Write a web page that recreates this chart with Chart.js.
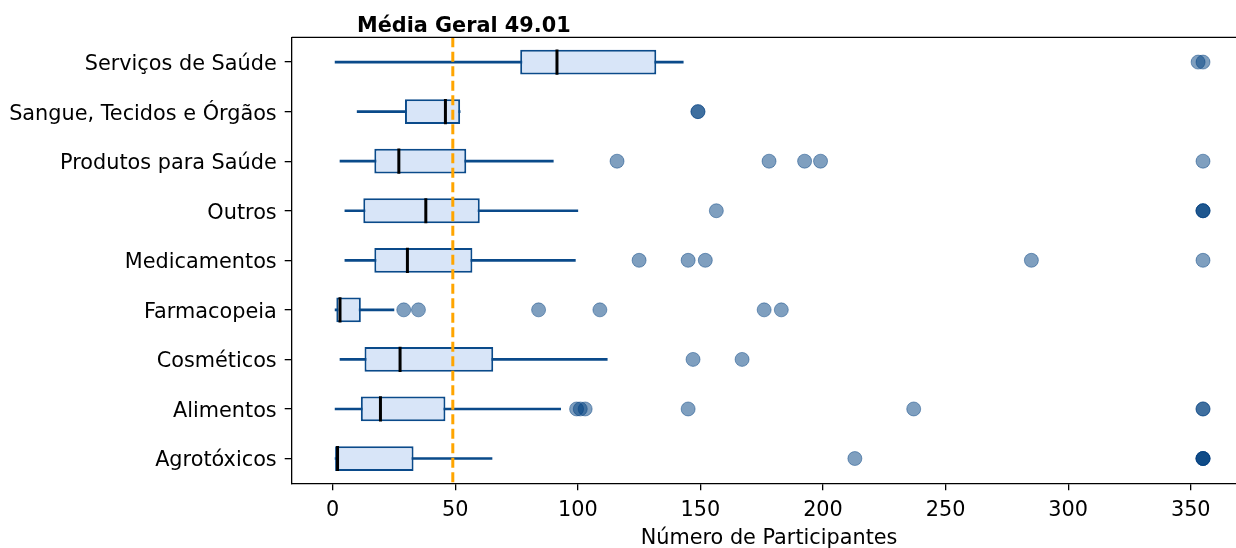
<!DOCTYPE html>
<html>
<head>
<meta charset="utf-8">
<script src="https://cdn.jsdelivr.net/npm/chart.js@4.4.1/dist/chart.umd.min.js"></script>
<style>
  html, body { margin: 0; padding: 0; background: #fff; }
  #wrap { width: 1236px; height: 548px; overflow: hidden; position: relative; }
  #chart { position: absolute; left: 0; top: 0; width: 1262px; height: 548px; }
</style>
</head>
<body>
<div id="wrap"><canvas id="chart" width="1262" height="548"></canvas></div>
<script>
// categories, top to bottom
const categories = ['Serviços de Saúde', 'Sangue, Tecidos e Órgãos', 'Produtos para Saúde', 'Outros',
  'Medicamentos', 'Farmacopeia', 'Cosméticos', 'Alimentos', 'Agrotóxicos'];

// box plot stats
const whiskerLow = [1, 10, 3, 5, 5, 1, 3, 1, 1];
const q1 = [76.5, 29.5, 17, 12.5, 17, 1.5, 13, 11.5, 1];
const median = [91.5, 46, 27, 38, 30.5, 3, 27.5, 19.5, 2];
const q3 = [132, 52, 54.5, 60, 57, 11.5, 65.5, 46, 33];
const whiskerHigh = [143, 52, 90, 100, 99, 25, 112, 93, 65];

// outliers per category (repeats overlap and look darker)
const outliers = [
  [353, 355],
  [149, 149],
  [116, 178, 192.5, 199, 355],
  [156.5, 355, 355, 355],
  [125, 145, 152, 285, 355],
  [29, 35, 84, 109, 176, 183],
  [147, 167],
  [99.5, 101, 103, 145, 237, 355, 355],
  [213, 355, 355, 355, 355]
];

const meanValue = 49.01;
const xTicks = [0, 50, 100, 150, 200, 250, 300, 350];
const xMin = -16.7;
const xMax = 372.7;

const edgeColor = '#0a4a8a';
const boxFill = '#d8e5f8';

Chart.defaults.font.family = 'DejaVu Sans';
Chart.defaults.font.size = 20.8;
Chart.defaults.color = '#000';

const outlierPoints = [];
outliers.forEach((list, i) => {
  list.forEach(v => outlierPoints.push({ x: v, y: categories[i] }));
});

// mean line, title and top spine
const extras = {
  id: 'extras',
  afterDatasetsDraw(chart) {
    const ctx = chart.ctx;
    const area = chart.chartArea;
    const mx = chart.scales.x.getPixelForValue(meanValue);
    ctx.save();
    ctx.strokeStyle = '#FFA500';
    ctx.lineWidth = 3;
    ctx.setLineDash([10, 4.5]);
    ctx.beginPath();
    ctx.moveTo(mx, area.top);
    ctx.lineTo(mx, area.bottom);
    ctx.stroke();
    ctx.restore();
  },
  afterDraw(chart) {
    const ctx = chart.ctx;
    const area = chart.chartArea;
    const xs = chart.scales.x;
    ctx.save();
    ctx.strokeStyle = '#000';
    ctx.lineWidth = 1.3;
    ctx.beginPath();
    ctx.moveTo(area.left, area.top);
    ctx.lineTo(area.right, area.top);
    ctx.lineTo(area.right, area.bottom);
    ctx.stroke();
    ctx.fillStyle = '#000';
    ctx.font = 'bold 20.8px "DejaVu Sans"';
    ctx.textAlign = 'center';
    ctx.textBaseline = 'alphabetic';
    ctx.fillText('Média Geral ' + meanValue.toFixed(2), xs.getPixelForValue(meanValue) + 11, area.top - 5);
    ctx.restore();
  }
};

new Chart(document.getElementById('chart'), {
  type: 'bar',
  data: {
    labels: categories,
    datasets: [
      {
        type: 'scatter',
        label: 'outliers',
        data: outlierPoints,
        pointRadius: 7,
        pointBackgroundColor: 'rgba(0, 64, 128, 0.5)',
        pointBorderColor: 'rgba(0, 64, 128, 0.45)',
        pointBorderWidth: 1,
        order: 1
      },
      {
        type: 'scatter',
        label: 'median',
        data: median.map((v, i) => ({ x: v, y: categories[i] })),
        pointStyle: 'line',
        rotation: 90,
        pointRadius: 12.6,
        pointBorderColor: '#000',
        pointBorderWidth: 3,
        order: 2
      },
      {
        label: 'box',
        data: q1.map((v, i) => [v, q3[i]]),
        backgroundColor: boxFill,
        borderColor: edgeColor,
        borderWidth: 2,
        borderSkipped: false,
        barPercentage: 0.5,
        categoryPercentage: 1,
        grouped: false,
        order: 3
      },
      {
        label: 'whisker',
        data: whiskerLow.map((v, i) => [v, whiskerHigh[i]]),
        backgroundColor: edgeColor,
        barThickness: 2,
        grouped: false,
        order: 4
      }
    ]
  },
  options: {
    indexAxis: 'y',
    responsive: false,
    animation: false,
    layout: { padding: { left: 0, right: 14.4, top: 37.3, bottom: 0 } },
    plugins: { legend: { display: false }, tooltip: { enabled: false } },
    scales: {
      x: {
        type: 'linear',
        min: xMin,
        max: xMax,
        afterBuildTicks: scale => { scale.ticks = xTicks.map(v => ({ value: v })); },
        afterFit: scale => { scale.height = 64.7; },
        ticks: { padding: 8, maxRotation: 0 },
        grid: { drawOnChartArea: false, tickLength: 7, color: '#000', lineWidth: 1.3 },
        border: { color: '#000', width: 1.3 },
        title: { display: true, text: 'Número de Participantes', padding: { top: 0, bottom: 0 }, font: { lineHeight: 0.95 } }
      },
      y: {
        type: 'category',
        afterFit: scale => { scale.width = 291.7; },
        ticks: { padding: 8, labelOffset: 2.5 },
        grid: { offset: false, drawOnChartArea: false, tickLength: 7, color: '#000', lineWidth: 1.3 },
        border: { color: '#000', width: 1.3 }
      }
    }
  },
  plugins: [extras]
});
</script>
</body>
</html>
